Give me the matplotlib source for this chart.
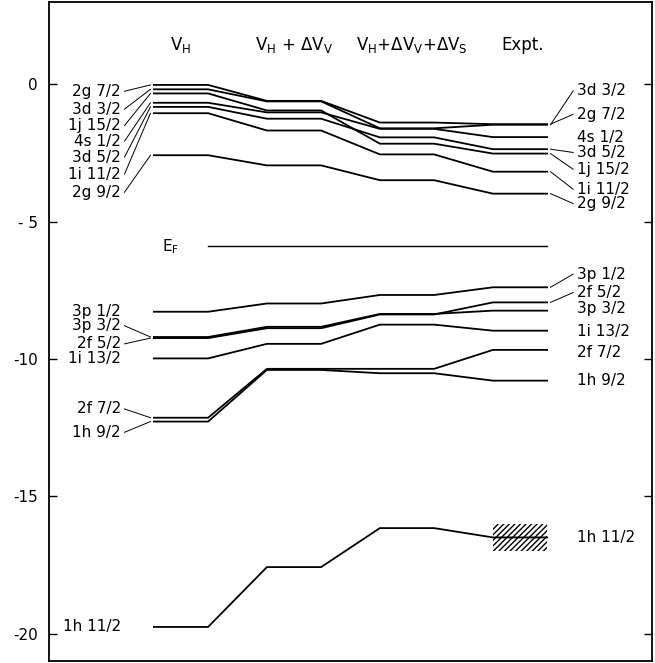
import matplotlib.pyplot as plt
from matplotlib.patches import Rectangle

plt.rcParams['mathtext.default'] = 'regular'
plt.rcParams['hatch.linewidth'] = 1.0

# column headings
columns = [r"V$_H$", r"V$_H$ + $\Delta$V$_V$",
           r"V$_H$+$\Delta$V$_V$+$\Delta$V$_S$", "Expt."]
header_x = [0.0, 1.0, 2.04, 3.02]

# single-particle levels above the Fermi energy (MeV)
upper_states = ["2g 7/2", "3d 3/2", "1j 15/2", "4s 1/2", "3d 5/2", "1i 11/2", "2g 9/2"]
upper_vh = [-0.02, -0.18, -0.33, -0.67, -0.82, -1.05, -2.58]
upper_vv = [-0.60, -0.62, -0.95, -1.02, -1.25, -1.68, -2.95]
upper_vs = [-1.39, -1.60, -2.16, -1.62, -1.93, -2.55, -3.49]
upper_expt = [-1.45, -1.47, -2.52, -1.92, -2.36, -3.18, -3.98]
upper_lab_left = [-0.25, -0.90, -1.50, -2.07, -2.65, -3.27, -3.93]
upper_lab_right = [-1.09, -0.24, -3.09, -1.92, -2.48, -3.82, -4.34]

# levels below the Fermi energy
lower_states = ["3p 1/2", "3p 3/2", "2f 5/2", "1i 13/2", "2f 7/2", "1h 9/2", "1h 11/2"]
lower_vh = [-8.28, -9.20, -9.24, -9.98, -12.14, -12.28, -19.76]
lower_vv = [-7.98, -8.83, -8.88, -9.45, -10.36, -10.40, -17.58]
lower_vs = [-7.67, -8.36, -8.38, -8.75, -10.36, -10.52, -16.16]
lower_expt = [-7.39, -8.24, -7.94, -8.97, -9.67, -10.79, -16.50]
lower_lab_left = [-8.28, -8.79, -9.45, -10.00, -11.82, -12.67, -19.76]
lower_lab_right = [-6.91, -8.18, -7.58, -9.00, -9.76, -10.79, -16.50]

e_fermi = -5.9
h11_err = 0.5   # experimental uncertainty of 1h 11/2

ytick_vals = [0, -5, -10, -15, -20]
ytick_text = ["0", "- 5", "-10", "-15", "-20"]

states = upper_states + lower_states
series = [upper_vh + lower_vh, upper_vv + lower_vv,
          upper_vs + lower_vs, upper_expt + lower_expt]
lab_left = upper_lab_left + lower_lab_left
lab_right = upper_lab_right + lower_lab_right

hw = 0.24   # half width of a level bar
fs = 11

fig = plt.figure(figsize=(6.55, 6.63), dpi=100)
ax = fig.add_axes([49 / 655, 2 / 663, 603 / 655, 659 / 663])

for i, name in enumerate(states):
    xs, ys = [], []
    for c, vals in enumerate(series):
        xs += [c - hw, c + hw]
        ys += [vals[i], vals[i]]
    ax.plot(xs, ys, color='black', lw=1.3, solid_joinstyle='miter')

    # labels on the left with leader lines
    y0 = series[0][i]
    ax.text(-0.53, lab_left[i], name, ha='right', va='center', fontsize=fs)
    if abs(lab_left[i] - y0) > 0.1:
        ax.plot([-0.50, -0.27], [lab_left[i], y0], color='black', lw=0.7)

    # labels on the right
    y3 = series[3][i]
    ax.text(3.50, lab_right[i], name, ha='left', va='center', fontsize=fs)
    if abs(lab_right[i] - y3) > 0.1:
        ax.plot([3.27, 3.47], [y3, lab_right[i]], color='black', lw=0.7)

# Fermi energy
ax.plot([hw, 3 + hw], [e_fermi, e_fermi], color='black', lw=1.0)
ax.text(-0.17, e_fermi, r"E$_F$", ha='left', va='center', fontsize=fs)

# hatched error band for the deep 1h 11/2 state
y_h = lower_expt[-1]
ax.add_patch(Rectangle((3 - hw, y_h - h11_err), 2 * hw, 2 * h11_err,
                       fill=False, hatch='//////', edgecolor='black', lw=0))

for x, title in zip(header_x, columns):
    ax.text(x, 1.45, title, ha='center', va='center', fontsize=fs + 1)

ax.set_xlim(-1.168, 4.168)
ax.set_ylim(-21, 3)
ax.set_xticks([])
ax.set_yticks(ytick_vals)
ax.set_yticklabels(ytick_text, fontsize=fs)
ax.tick_params(axis='y', direction='in', length=6, width=1.0,
               right=True, pad=8)
for sp in ax.spines.values():
    sp.set_linewidth(1.3)

fig.savefig('out.png', dpi=100, facecolor='white')
